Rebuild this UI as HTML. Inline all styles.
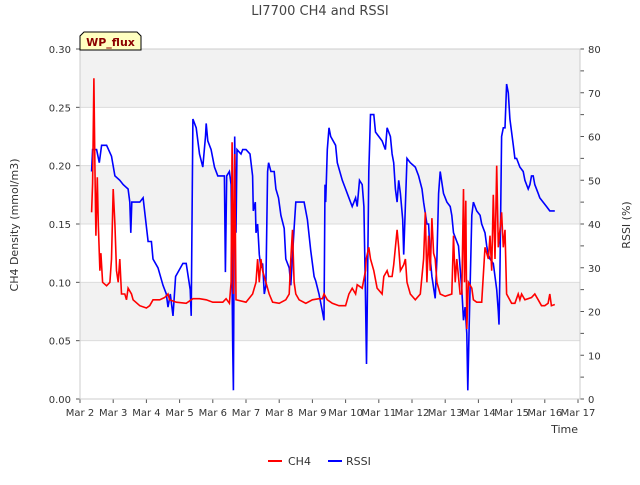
<!DOCTYPE html>
<html><head><meta charset="utf-8"><style>
body{margin:0;background:#fff;}
svg text{font-family:"DejaVu Sans","Liberation Sans",sans-serif;}
</style></head><body>
<svg width="640" height="480" xmlns="http://www.w3.org/2000/svg">
<g id="bands"></g>
<g id="axes"></g>
<g id="series"></g>
<text x="320" y="15" text-anchor="middle" font-size="13" fill="#444">LI7700 CH4 and RSSI</text>
<text transform="translate(18,225) rotate(-90)" text-anchor="middle" font-size="11" fill="#333">CH4 Density (mmol/m3)</text>
<text transform="translate(630,225) rotate(-90)" text-anchor="middle" font-size="11" fill="#333">RSSI (%)</text>
<text x="578" y="433" text-anchor="end" font-size="11" fill="#333">Time</text>
<g>
<path d="M80,50 L80,36 L84,32 L137,32 L141,36 L141,50 Z" fill="#ffffc0" stroke="#000" stroke-width="1"/>
<text x="110.5" y="46" text-anchor="middle" font-size="11" font-weight="bold" fill="#8b0000">WP_flux</text>
</g>
<g>
<g><line x1="268" y1="461" x2="282" y2="461" stroke="red" stroke-width="2"/><text x="288" y="465" font-size="11" fill="#333">CH4</text></g>
<g><line x1="328" y1="461" x2="342" y2="461" stroke="blue" stroke-width="2"/><text x="346" y="465" font-size="11" fill="#333">RSSI</text></g>
</g>
</svg>
<script>
const xTickLabels=["Mar 2","Mar 3","Mar 4","Mar 5","Mar 6","Mar 7","Mar 8","Mar 9","Mar 10","Mar 11","Mar 12","Mar 13","Mar 14","Mar 15","Mar 16","Mar 17"];
const yTicks=[0,0.05,0.10,0.15,0.20,0.25,0.30];
const y2Ticks=[0,10,20,30,40,50,60,70,80];
const rssiDays=[0.35,0.38,0.5,0.58,0.65,0.8,0.95,1.05,1.2,1.3,1.45,1.5,1.53,1.56,1.8,1.9,1.96,2.05,2.15,2.2,2.35,2.5,2.6,2.65,2.72,2.8,2.88,3.1,3.2,3.32,3.35,3.4,3.5,3.6,3.7,3.78,3.8,3.85,3.95,4.05,4.15,4.35,4.38,4.42,4.5,4.55,4.6,4.62,4.66,4.7,4.73,4.85,4.9,5.0,5.12,5.2,5.22,5.28,5.3,5.35,5.4,5.45,5.5,5.55,5.6,5.65,5.68,5.75,5.85,5.9,5.98,6.05,6.15,6.2,6.3,6.35,6.45,6.5,6.75,6.85,6.95,7.05,7.1,7.2,7.3,7.35,7.38,7.4,7.45,7.5,7.55,7.7,7.75,7.9,8.0,8.1,8.2,8.3,8.35,8.42,8.5,8.55,8.6,8.63,8.65,8.7,8.75,8.85,8.9,9.0,9.1,9.2,9.25,9.35,9.4,9.45,9.5,9.55,9.6,9.65,9.72,9.75,9.85,9.95,10.1,10.2,10.3,10.35,10.45,10.5,10.55,10.6,10.7,10.75,10.8,10.85,10.95,11.05,11.15,11.2,11.25,11.35,11.4,11.45,11.5,11.55,11.6,11.65,11.68,11.72,11.8,11.85,11.95,12.05,12.1,12.2,12.25,12.3,12.35,12.45,12.55,12.6,12.62,12.65,12.7,12.75,12.8,12.85,12.9,12.95,13.05,13.1,13.15,13.25,13.35,13.4,13.5,13.55,13.6,13.65,13.7,13.8,13.85,13.95,14.05,14.15,14.2,14.3];
const rssiValues=[52,57,57,54,58,58,55.5,51,50,49,48,45,38,45,45,46,42,36,36,32,30,26,24,21,24,19,28,31,31,25,19,64,62,56,53,60,63,59,57,53,51,51,29,51,52,49,12,2,60,38,57,56,57,57,56,51,43,45,38,40,33,30,31,24,26,52,54,52,52,48,46,42,39,32,30,26,39,45,45,41,34,28,27,24,20,18,49,45,57,62,60,58,54,50,48,46,44,46,44,50,49,44,23,8,20,52,65,65,61,60,59,57,62,60,56,54,48,45,50,47,41,33,55,54,53,51,48,45,40,40,32,28,23,32,47,52,47,45,44,42,38,36,35,30,25,18,21,15,2,16,42,45,43,42,40,38,35,33,32,31,25,20,17,30,60,62,62,72,70,64,58,55,55,53,52,50,48,49,51,51,49,47,46,45,44,43,43,43];
const ch4Days=[0.35,0.38,0.42,0.45,0.48,0.52,0.55,0.6,0.63,0.68,0.8,0.9,0.95,1.0,1.05,1.1,1.15,1.2,1.25,1.35,1.4,1.45,1.55,1.6,1.8,2.0,2.1,2.2,2.4,2.55,2.65,2.7,2.9,3.2,3.4,3.6,3.8,4.0,4.3,4.4,4.5,4.55,4.58,4.62,4.66,4.7,5.0,5.2,5.3,5.35,5.4,5.45,5.5,5.6,5.7,5.8,6.0,6.2,6.3,6.35,6.4,6.45,6.5,6.6,6.8,7.0,7.2,7.3,7.35,7.45,7.6,7.8,8.0,8.1,8.2,8.3,8.35,8.5,8.6,8.62,8.7,8.75,8.85,8.95,9.1,9.15,9.25,9.3,9.4,9.45,9.5,9.55,9.6,9.65,9.75,9.8,9.85,9.95,10.1,10.25,10.35,10.4,10.45,10.5,10.55,10.6,10.65,10.7,10.75,10.85,11.0,11.2,11.25,11.3,11.35,11.45,11.5,11.55,11.58,11.62,11.65,11.7,11.8,11.85,11.95,12.1,12.2,12.3,12.35,12.4,12.45,12.5,12.55,12.6,12.7,12.75,12.8,12.85,13.0,13.1,13.2,13.25,13.3,13.4,13.6,13.7,13.8,13.9,14.0,14.1,14.15,14.2,14.3];
const ch4Values=[0.16,0.185,0.275,0.2,0.14,0.19,0.15,0.11,0.125,0.1,0.097,0.1,0.12,0.18,0.15,0.11,0.1,0.12,0.09,0.09,0.085,0.095,0.09,0.085,0.08,0.078,0.08,0.085,0.085,0.087,0.09,0.085,0.083,0.082,0.086,0.086,0.085,0.083,0.083,0.086,0.082,0.1,0.22,0.09,0.21,0.085,0.083,0.09,0.1,0.12,0.1,0.12,0.11,0.1,0.09,0.083,0.082,0.085,0.09,0.12,0.145,0.1,0.09,0.085,0.082,0.085,0.086,0.086,0.09,0.085,0.082,0.08,0.08,0.09,0.095,0.09,0.098,0.095,0.11,0.12,0.13,0.12,0.11,0.095,0.09,0.105,0.11,0.105,0.105,0.115,0.13,0.145,0.13,0.11,0.115,0.12,0.1,0.09,0.085,0.09,0.12,0.16,0.1,0.14,0.11,0.155,0.125,0.12,0.1,0.09,0.088,0.09,0.14,0.1,0.12,0.09,0.09,0.18,0.1,0.17,0.06,0.1,0.095,0.085,0.083,0.083,0.13,0.12,0.14,0.11,0.175,0.12,0.2,0.13,0.16,0.13,0.145,0.09,0.082,0.082,0.09,0.085,0.09,0.085,0.087,0.09,0.085,0.08,0.08,0.082,0.09,0.08,0.081];

const L=80,R=580,T=49,B=399,NS="http://www.w3.org/2000/svg";
const xDay=d=>L+d*(498/15);
const yL=v=>B-(v/0.30)*(B-T);
const yR=v=>B-(v/80)*(B-T);
function mk(tag,attrs,parent){const e=document.createElementNS(NS,tag);for(const k in attrs)e.setAttribute(k,attrs[k]);parent.appendChild(e);return e;}
const bands=document.getElementById('bands'),axes=document.getElementById('axes'),series=document.getElementById('series');
mk('rect',{x:L,y:T,width:R-L,height:B-T,fill:'#fff'},bands);
for(let i=0;i<yTicks.length-1;i+=2){
  const r=mk('rect',{x:L,y:yL(yTicks[i+2]||0.30),width:R-L,height:yL(yTicks[i+1])-yL(yTicks[i+2]||0.30),fill:'#f2f2f2'},bands);
}
yTicks.forEach(v=>{
  const g=mk('line',{x1:L,x2:R,y1:yL(v),y2:yL(v),stroke:'#dcdcdc','stroke-width':1},bands);
  
  
  mk('line',{x1:L-4,x2:L,y1:yL(v),y2:yL(v),stroke:'#555'},axes);
  const t=mk('text',{x:L-9,y:yL(v)+4,'text-anchor':'end','font-size':10,fill:'#333'},axes);
  t.textContent=v.toFixed(2);
  
  
});
for(let v=0;v<=80;v+=5){
  mk('line',{x1:R,x2:R+4,y1:yR(v),y2:yR(v),stroke:'#555'},axes);
}
y2Ticks.forEach(v=>{
  const t=mk('text',{x:R+8,y:yR(v)+4,'font-size':10,fill:'#333'},axes);
  t.textContent=v;
  
  
});
xTickLabels.forEach((s,i)=>{
  mk('line',{x1:xDay(i),x2:xDay(i),y1:B,y2:B+4,stroke:'#555'},axes);
  const t=mk('text',{x:xDay(i),y:B+17,'text-anchor':'middle','font-size':10,fill:'#333'},axes);
  t.textContent=s;
  
  
});
mk('rect',{x:L,y:T,width:R-L,height:B-T,fill:'none',stroke:'#ccc'},axes);
const rp=mk('polyline',{points:rssiDays.map((d,i)=>xDay(d).toFixed(1)+','+yR(rssiValues[i]).toFixed(1)).join(' '),fill:'none',stroke:'blue','stroke-width':1.6},series);


const cp=mk('polyline',{points:ch4Days.map((d,i)=>xDay(d).toFixed(1)+','+yL(ch4Values[i]).toFixed(1)).join(' '),fill:'none',stroke:'red','stroke-width':1.6},series);


</script>
</body></html>
